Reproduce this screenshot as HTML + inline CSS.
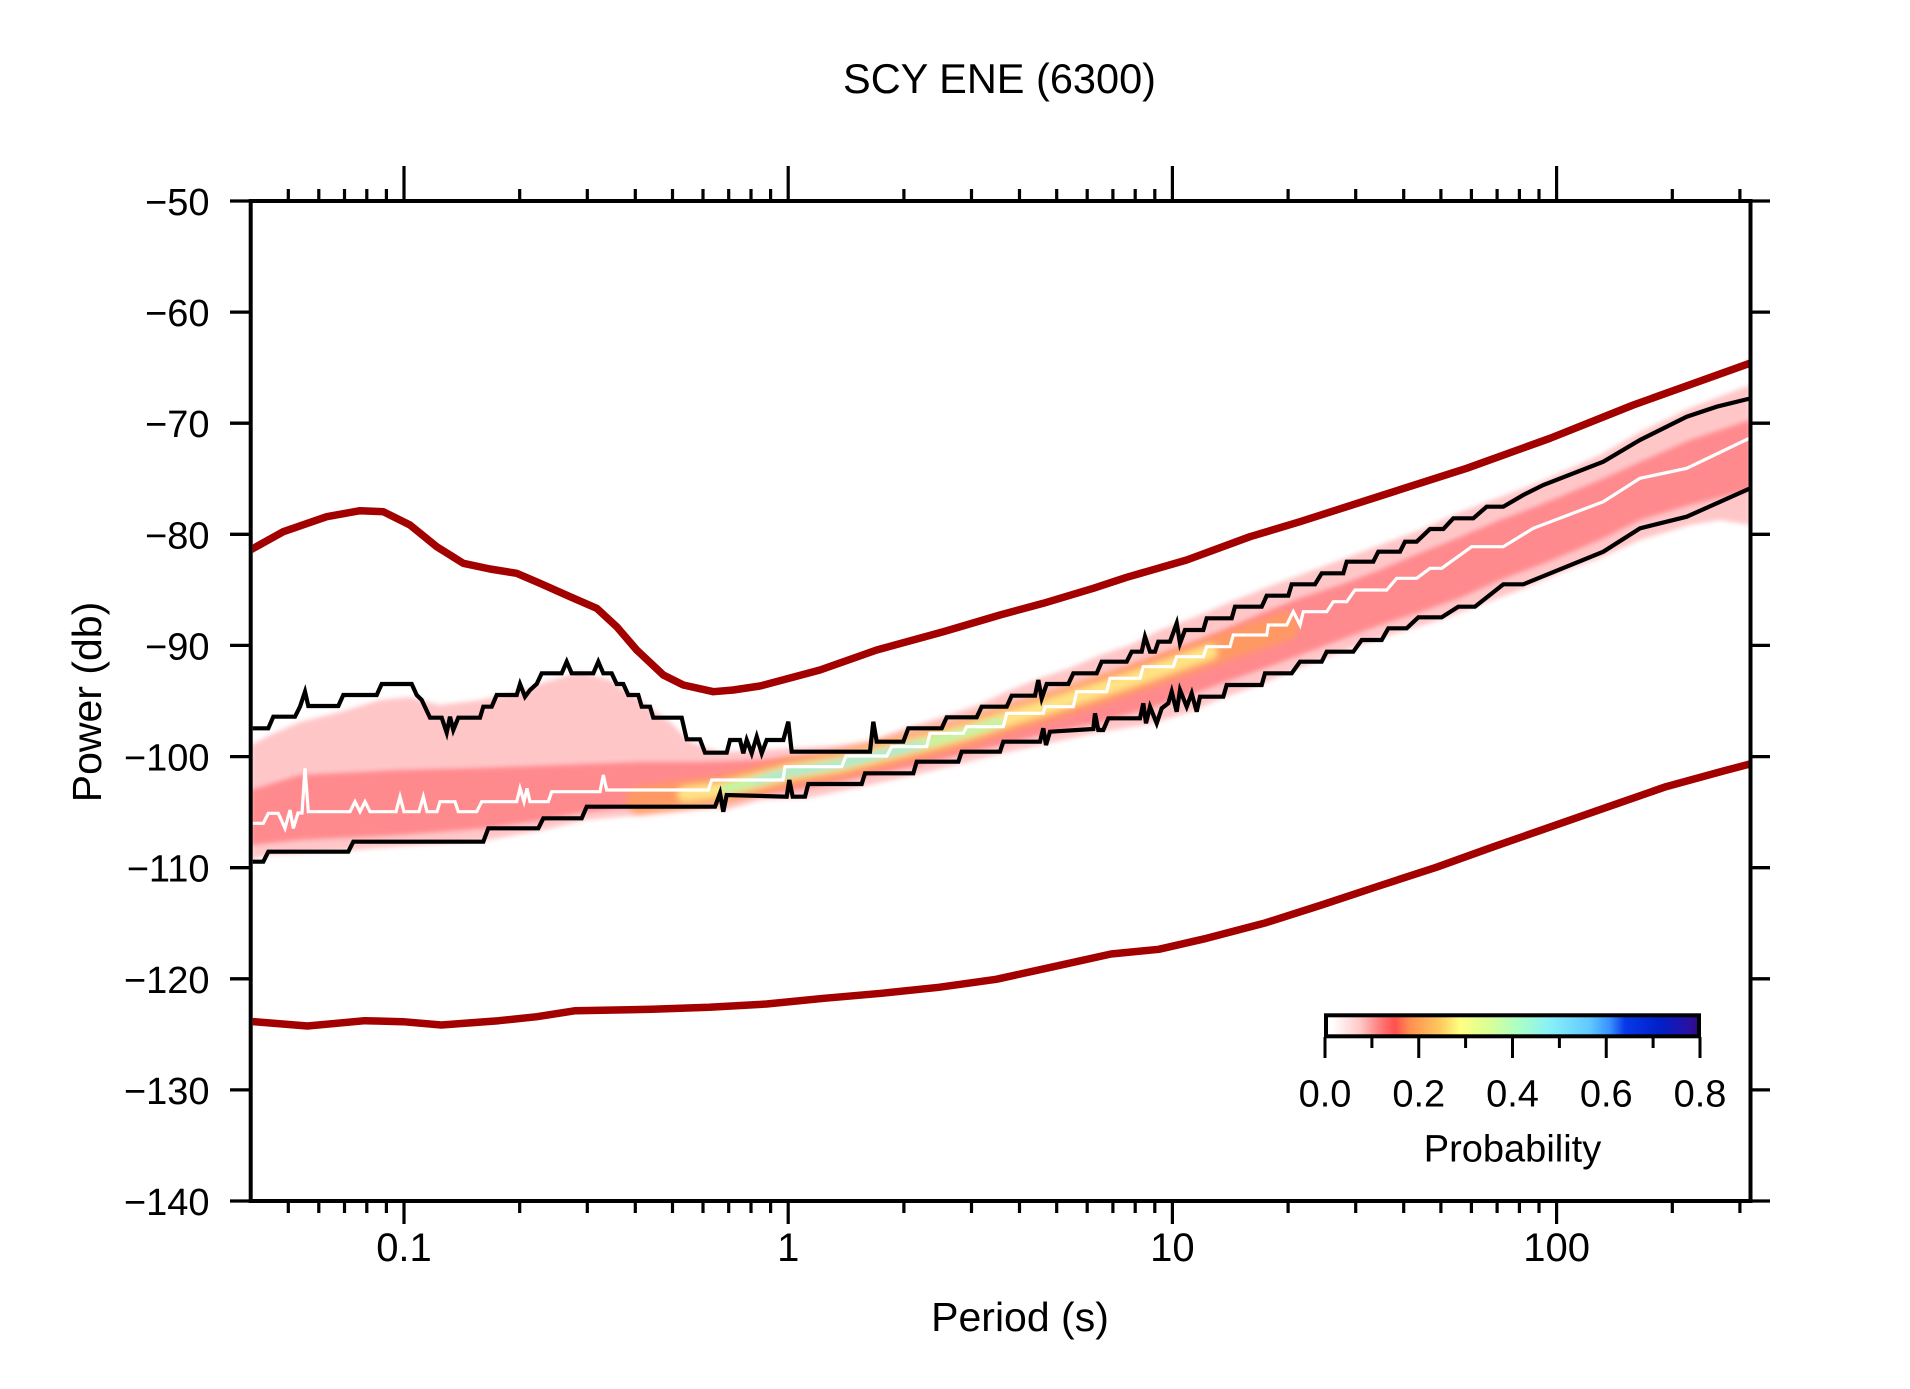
<!DOCTYPE html>
<html>
<head>
<meta charset="utf-8">
<style>
html,body{margin:0;padding:0;background:#fff;}
svg{display:block;}
text{font-family:"Liberation Sans",Arial,sans-serif;fill:#000;}
</style>
</head>
<body>
<svg width="1910" height="1389" viewBox="0 0 1910 1389" xmlns="http://www.w3.org/2000/svg">
<defs>
  <clipPath id="plot"><rect x="252.7" y="203" width="1495.8" height="996"/></clipPath>
  <filter id="soft" x="-5%" y="-5%" width="110%" height="110%"><feGaussianBlur stdDeviation="2.5"/></filter>
  <filter id="soft2" x="-5%" y="-20%" width="110%" height="140%"><feGaussianBlur stdDeviation="3.5"/></filter>
  <linearGradient id="cb" gradientUnits="userSpaceOnUse" x1="1325" y1="0" x2="1700" y2="0">
    <stop offset="0" stop-color="#ffffff"/>
    <stop offset="0.02" stop-color="#ffffff"/>
    <stop offset="0.093" stop-color="#ffc8c8"/>
    <stop offset="0.155" stop-color="#ff7070"/>
    <stop offset="0.187" stop-color="#ff5050"/>
    <stop offset="0.227" stop-color="#ff9050"/>
    <stop offset="0.307" stop-color="#ffc860"/>
    <stop offset="0.36" stop-color="#ffff80"/>
    <stop offset="0.44" stop-color="#d8ff98"/>
    <stop offset="0.52" stop-color="#a8ffc8"/>
    <stop offset="0.6" stop-color="#88f0f8"/>
    <stop offset="0.707" stop-color="#60c8ff"/>
    <stop offset="0.76" stop-color="#3890ff"/>
    <stop offset="0.8" stop-color="#0838e8"/>
    <stop offset="0.893" stop-color="#0020c8"/>
    <stop offset="0.973" stop-color="#2a10a0"/>
    <stop offset="1" stop-color="#300880"/>
  </linearGradient>
</defs>

<rect x="0" y="0" width="1910" height="1389" fill="#fff"/>

<!-- Title -->
<text x="999.5" y="93" font-size="41.5" text-anchor="middle">SCY ENE (6300)</text>

<g clip-path="url(#plot)">
  <!-- PDF band: pink envelope -->
  <polygon filter="url(#soft)" fill="#ffc6c8" points="251,745 270,735 300,722 340,712 380,700 410,697 440,705 480,700 520,692 545,682 580,672 610,680 640,700 670,722 690,742 720,752 760,750 790,748 830,746 870,742 905,728 945,716 980,704 1010,690 1040,678 1070,668 1100,655 1130,645 1160,630 1200,615 1235,600 1265,588 1300,575 1340,560 1380,545 1420,530 1460,512 1500,497 1540,482 1600,455 1640,432 1690,408 1750,385 1750,525 1720,520 1690,525 1640,540 1600,558 1560,573 1520,590 1480,605 1440,620 1400,632 1360,645 1320,660 1290,672 1260,685 1225,697 1190,712 1150,724 1100,732 1050,743 1000,754 960,764 915,775 865,786 808,798 760,800 726,810 715,808 586,820 543,830 488,840 353,850 268,855 251,860"/>
  <!-- red core -->
  <polygon filter="url(#soft)" fill="#ff8084" opacity="0.85" points="251,790 300,775 400,770 480,768 560,765 640,762 700,762 760,760 790,757 870,756 905,745 945,733 980,722 1010,712 1040,700 1070,690 1100,678 1130,667 1160,655 1200,640 1235,625 1265,612 1300,598 1340,585 1380,570 1420,553 1460,537 1500,520 1540,505 1600,480 1640,462 1690,440 1750,420 1750,490 1690,505 1640,520 1600,540 1540,565 1500,580 1460,598 1420,612 1380,625 1340,640 1300,655 1265,668 1225,682 1190,695 1150,708 1100,722 1050,733 1000,745 960,755 915,766 865,776 808,788 760,795 720,800 650,805 586,812 543,820 488,828 400,835 300,840 251,845"/>
  <!-- colored core -->
  <g filter="url(#soft2)" fill="none" stroke-linecap="round" stroke-linejoin="round">
    <polyline stroke="#ff9c5c" stroke-width="28" opacity="0.85" points="640,800 680,795 720,790 760,780 790,772 840,764 890,752 930,742 970,731 1010,718 1050,706 1090,693 1130,680 1170,666 1210,652 1250,638 1285,626"/>
    <polyline stroke="#ffe484" stroke-width="15" points="685,794 720,790 760,780 790,772 840,764 890,752 930,742 970,731 1010,718 1050,706 1090,693 1130,680 1170,666 1210,652"/>
    <polyline stroke="#b8f8a8" stroke-width="9" points="725,789 760,780 790,772 840,764 890,752 930,742 970,731 1000,722"/>
    <polyline stroke="#78e4f4" stroke-width="4" points="755,781 790,772 840,764 890,752 920,745"/>
  </g>

  <!-- upper black percentile -->
  <polyline fill="none" stroke="#000" stroke-width="4.2" stroke-linejoin="miter" points="250.7,728.3 268.3,728.3 273.3,716.7 295,716.7 300,706.7 305,691.7 308.3,706 338.3,706 343.3,695 376.7,695 381.7,684 411.7,684 416.7,695 421.7,700 430,717.7 441.7,717.7 446.7,732.7 450,716.7 453.3,730 458.3,717.7 480,717.7 483.3,706.7 491.7,706.7 496.7,695 516.7,695 520,684 525,696.7 530,690 536.7,684 541.7,673.3 561.7,673.3 566.7,661.7 571.7,673.3 593.3,673.3 598.3,661.7 603.3,673.3 611.7,673.3 616.7,684 623.3,684 628.3,695 638.3,695 641.7,706.7 650,706.7 653.3,717.7 681.7,717.7 686.7,739.3 700,739.3 705,752.7 726.7,752.7 730,740 740,740 743.3,753.3 746.7,740 751.7,753.3 756.7,736.7 761.7,753.3 766.7,740 783.3,740 788.3,721.7 791.7,751.7 870,751.7 873.3,721.7 876.7,741.7 903.3,741.7 908.3,728.3 941.7,728.3 946.7,717.3 976.7,717.3 981.7,706.7 1006.7,706.7 1011.7,695.7 1035,695.7 1038.3,680 1041.7,698.3 1046.7,684 1068.3,684 1073.3,673.3 1096.7,673.3 1101.7,661.7 1126.7,661.7 1131.7,651.7 1141.7,651.7 1145,636.7 1150,651.7 1155,651.7 1158.3,641.7 1170,641.7 1176.7,623.3 1180,643.3 1185,630 1203.3,630 1206.7,618.3 1231.7,618.3 1235,606.7 1261.7,606.7 1266.7,595.7 1288.3,595.7 1291.7,584.3 1315,584.3 1321.7,573.3 1343.3,573.3 1346.7,561.7 1373.3,561.7 1378.3,551.7 1400,551.7 1405,541.7 1416.7,541.7 1430,529 1443.3,529 1453.3,518.3 1473.3,518.3 1486.7,506.7 1503.3,506.7 1523.3,495 1543.3,485 1603.3,461.7 1640,440 1686.7,416.7 1716.7,406.7 1752,398"/>

  <!-- lower black percentile -->
  <polyline fill="none" stroke="#000" stroke-width="4.2" stroke-linejoin="miter" points="250.7,861.7 263.3,861.7 268.3,851.7 348.3,851.7 353.3,841.7 483.3,841.7 488.3,828.3 538.3,828.3 543.3,818.3 581.7,818.3 586.7,806.7 715,806.7 720,793.3 723.3,811.7 726.7,795 786.7,796.7 789.3,780 792.7,796.7 805,796.7 808.3,784 861.7,784 865,773.3 913.3,773.3 916.7,761.7 958.3,761.7 961.7,751.7 1000,751.7 1003.3,741.7 1040,741.7 1043.3,728.3 1046,745 1050,731.7 1093.3,729 1095,713.3 1098.3,730 1103.3,730 1108.3,718.3 1140,718.3 1143.3,703.3 1146,723.3 1150,706.7 1156.7,723.3 1161.7,708.3 1168.3,703.3 1171.7,691.7 1176.7,711.7 1180,690 1186.7,706.7 1191.7,693.3 1196.7,711.7 1200,696.7 1223.3,696.7 1226.7,685 1261.7,685 1265,673.3 1291.7,673.3 1300,661.7 1321.7,661.7 1326.7,651.7 1353.3,651.7 1361.7,640 1381.7,640 1388.3,628.3 1406.7,628.3 1418.3,617.3 1441.7,617.3 1458.3,606.7 1475,606.7 1503.3,584.3 1523.3,584.3 1603.3,551.7 1640,528.3 1686.7,516.7 1716.7,503.3 1752,487.5"/>

  <!-- white median -->
  <polyline fill="none" stroke="#fff" stroke-width="3.2" stroke-linejoin="miter" points="250.7,823.3 263.3,823.3 268.3,813.3 278.3,813.3 285,828.3 290,810 293.3,828.3 298,813 302,813 305,768.3 308.3,811.7 350,811.7 355,801.7 360,811.7 365,801.7 370,811.7 396,811.7 400,796.7 404,811.7 419,811.7 423.3,796.7 427,811.7 437,811.7 440,801.7 455,801.7 458.3,811.7 476.7,811.7 481.7,801.7 516.7,801.7 520,788.3 524,801.7 527,788.3 530,801.7 548.3,801.7 551.7,791.7 600,791.7 603.3,775 606.7,790 708.3,790 711.7,780 783,780 785,766.7 841.7,766.7 846,756 886.7,756 891.7,746.7 926.7,746.7 930,733.3 963.3,733.3 966.7,726.7 1003.3,726.7 1006.7,713.3 1043.3,713.3 1045,706.7 1073.3,706.7 1076.7,691.7 1106.7,691.7 1110,678.3 1140,678.3 1143.3,666.7 1173.3,666.7 1176.7,656.7 1203.3,656.7 1206.7,646.7 1230,646.7 1233.3,635 1266.7,635 1268.3,625 1286.7,625 1293.3,611.7 1300,625 1303.3,611.7 1326.7,611.7 1333.3,601.7 1346.7,601.7 1355,590 1386.7,590 1396.7,578.3 1416.7,578.3 1430,568.3 1441.7,568.3 1471.7,546.7 1503.3,546.7 1533.3,528.3 1603.3,501.7 1640,478.3 1686.7,468.3 1752,437"/>

  <!-- upper noise model -->
  <polyline fill="none" stroke="#a30000" stroke-width="7.5" stroke-linejoin="round" stroke-linecap="round" points="248,551.5 253.3,548.3 283.3,531.7 326.7,516.7 360,510.7 383.3,511.7 410,525 436.7,546.7 463.3,563.3 490,569 516.7,573.3 540,583.3 570,596.7 596.7,608.3 616.7,626.7 636.7,650 663.3,675 683.3,685 713.3,691.7 733.3,690 760,686 820,670 876.7,650 943.3,631.7 1000,615 1043.3,603.3 1093.3,588.3 1126.7,577.3 1186.7,560 1250,536.7 1300,521.7 1383.3,495 1466.7,468.3 1550,438.3 1633.3,405 1752,362.5"/>

  <!-- lower noise model -->
  <polyline fill="none" stroke="#a30000" stroke-width="7.5" stroke-linejoin="round" stroke-linecap="round" points="248,1021.5 254.8,1021.7 307.4,1026 364.8,1020.7 403,1021.7 441.3,1025 498.7,1020.7 537,1016.7 575.3,1010.7 651.8,1009.3 709.2,1007.3 766.6,1004 824,998.3 881.4,993.3 938.8,987.3 996.2,979.3 1053.6,966.7 1111,954 1158.8,949.3 1206.7,938.3 1264,923.3 1321.5,905 1378.9,886 1436.3,867.3 1493.7,846.7 1551.1,826.7 1608.5,806.7 1665.9,786.7 1723.3,771 1752,763.5"/>
</g>

<!-- Frame -->
<rect x="250.7" y="201" width="1499.8" height="1000" fill="none" stroke="#000" stroke-width="4"/>

<!-- Y ticks -->
<g stroke="#000" stroke-width="3.3">
  <line x1="230" y1="201" x2="250.7" y2="201"/>
  <line x1="230" y1="312.1" x2="250.7" y2="312.1"/>
  <line x1="230" y1="423.2" x2="250.7" y2="423.2"/>
  <line x1="230" y1="534.3" x2="250.7" y2="534.3"/>
  <line x1="230" y1="645.4" x2="250.7" y2="645.4"/>
  <line x1="230" y1="756.6" x2="250.7" y2="756.6"/>
  <line x1="230" y1="867.7" x2="250.7" y2="867.7"/>
  <line x1="230" y1="978.8" x2="250.7" y2="978.8"/>
  <line x1="230" y1="1089.9" x2="250.7" y2="1089.9"/>
  <line x1="230" y1="1201" x2="250.7" y2="1201"/>
  <line x1="1750.5" y1="201" x2="1770" y2="201"/>
  <line x1="1750.5" y1="312.1" x2="1770" y2="312.1"/>
  <line x1="1750.5" y1="423.2" x2="1770" y2="423.2"/>
  <line x1="1750.5" y1="534.3" x2="1770" y2="534.3"/>
  <line x1="1750.5" y1="645.4" x2="1770" y2="645.4"/>
  <line x1="1750.5" y1="756.6" x2="1770" y2="756.6"/>
  <line x1="1750.5" y1="867.7" x2="1770" y2="867.7"/>
  <line x1="1750.5" y1="978.8" x2="1770" y2="978.8"/>
  <line x1="1750.5" y1="1089.9" x2="1770" y2="1089.9"/>
  <line x1="1750.5" y1="1201" x2="1770" y2="1201"/>
</g>

<!-- X ticks top & bottom -->
<g stroke="#000" stroke-width="3.2">
  <line x1="404" y1="166" x2="404" y2="201"/><line x1="404" y1="1201" x2="404" y2="1224"/>
  <line x1="788.2" y1="166" x2="788.2" y2="201"/><line x1="788.2" y1="1201" x2="788.2" y2="1224"/>
  <line x1="1172.4" y1="166" x2="1172.4" y2="201"/><line x1="1172.4" y1="1201" x2="1172.4" y2="1224"/>
  <line x1="1556.6" y1="166" x2="1556.6" y2="201"/><line x1="1556.6" y1="1201" x2="1556.6" y2="1224"/>

  <line x1="288.3" y1="189" x2="288.3" y2="201"/><line x1="288.3" y1="1201" x2="288.3" y2="1213"/>
  <line x1="318.8" y1="189" x2="318.8" y2="201"/><line x1="318.8" y1="1201" x2="318.8" y2="1213"/>
  <line x1="344.5" y1="189" x2="344.5" y2="201"/><line x1="344.5" y1="1201" x2="344.5" y2="1213"/>
  <line x1="366.8" y1="189" x2="366.8" y2="201"/><line x1="366.8" y1="1201" x2="366.8" y2="1213"/>
  <line x1="386.4" y1="189" x2="386.4" y2="201"/><line x1="386.4" y1="1201" x2="386.4" y2="1213"/>

  <line x1="519.7" y1="189" x2="519.7" y2="201"/><line x1="519.7" y1="1201" x2="519.7" y2="1213"/>
  <line x1="587.3" y1="189" x2="587.3" y2="201"/><line x1="587.3" y1="1201" x2="587.3" y2="1213"/>
  <line x1="635.3" y1="189" x2="635.3" y2="201"/><line x1="635.3" y1="1201" x2="635.3" y2="1213"/>
  <line x1="672.5" y1="189" x2="672.5" y2="201"/><line x1="672.5" y1="1201" x2="672.5" y2="1213"/>
  <line x1="703" y1="189" x2="703" y2="201"/><line x1="703" y1="1201" x2="703" y2="1213"/>
  <line x1="728.7" y1="189" x2="728.7" y2="201"/><line x1="728.7" y1="1201" x2="728.7" y2="1213"/>
  <line x1="751" y1="189" x2="751" y2="201"/><line x1="751" y1="1201" x2="751" y2="1213"/>
  <line x1="770.6" y1="189" x2="770.6" y2="201"/><line x1="770.6" y1="1201" x2="770.6" y2="1213"/>

  <line x1="903.9" y1="189" x2="903.9" y2="201"/><line x1="903.9" y1="1201" x2="903.9" y2="1213"/>
  <line x1="971.5" y1="189" x2="971.5" y2="201"/><line x1="971.5" y1="1201" x2="971.5" y2="1213"/>
  <line x1="1019.5" y1="189" x2="1019.5" y2="201"/><line x1="1019.5" y1="1201" x2="1019.5" y2="1213"/>
  <line x1="1056.7" y1="189" x2="1056.7" y2="201"/><line x1="1056.7" y1="1201" x2="1056.7" y2="1213"/>
  <line x1="1087.2" y1="189" x2="1087.2" y2="201"/><line x1="1087.2" y1="1201" x2="1087.2" y2="1213"/>
  <line x1="1112.9" y1="189" x2="1112.9" y2="201"/><line x1="1112.9" y1="1201" x2="1112.9" y2="1213"/>
  <line x1="1135.2" y1="189" x2="1135.2" y2="201"/><line x1="1135.2" y1="1201" x2="1135.2" y2="1213"/>
  <line x1="1154.8" y1="189" x2="1154.8" y2="201"/><line x1="1154.8" y1="1201" x2="1154.8" y2="1213"/>

  <line x1="1288.1" y1="189" x2="1288.1" y2="201"/><line x1="1288.1" y1="1201" x2="1288.1" y2="1213"/>
  <line x1="1355.7" y1="189" x2="1355.7" y2="201"/><line x1="1355.7" y1="1201" x2="1355.7" y2="1213"/>
  <line x1="1403.7" y1="189" x2="1403.7" y2="201"/><line x1="1403.7" y1="1201" x2="1403.7" y2="1213"/>
  <line x1="1440.9" y1="189" x2="1440.9" y2="201"/><line x1="1440.9" y1="1201" x2="1440.9" y2="1213"/>
  <line x1="1471.4" y1="189" x2="1471.4" y2="201"/><line x1="1471.4" y1="1201" x2="1471.4" y2="1213"/>
  <line x1="1497.1" y1="189" x2="1497.1" y2="201"/><line x1="1497.1" y1="1201" x2="1497.1" y2="1213"/>
  <line x1="1519.4" y1="189" x2="1519.4" y2="201"/><line x1="1519.4" y1="1201" x2="1519.4" y2="1213"/>
  <line x1="1539" y1="189" x2="1539" y2="201"/><line x1="1539" y1="1201" x2="1539" y2="1213"/>

  <line x1="1672.3" y1="189" x2="1672.3" y2="201"/><line x1="1672.3" y1="1201" x2="1672.3" y2="1213"/>
  <line x1="1739.9" y1="189" x2="1739.9" y2="201"/><line x1="1739.9" y1="1201" x2="1739.9" y2="1213"/>
</g>

<!-- Y tick labels -->
<g font-size="38" text-anchor="end">
  <text x="209.5" y="215">−50</text>
  <text x="209.5" y="326.1">−60</text>
  <text x="209.5" y="437.2">−70</text>
  <text x="209.5" y="548.3">−80</text>
  <text x="209.5" y="659.4">−90</text>
  <text x="209.5" y="770.6">−100</text>
  <text x="209.5" y="881.7">−110</text>
  <text x="209.5" y="992.8">−120</text>
  <text x="209.5" y="1103.9">−130</text>
  <text x="209.5" y="1215">−140</text>
</g>

<!-- X tick labels -->
<g font-size="40" text-anchor="middle">
  <text x="404" y="1261">0.1</text>
  <text x="788.2" y="1261">1</text>
  <text x="1172.4" y="1261">10</text>
  <text x="1556.6" y="1261">100</text>
</g>

<!-- Axis labels -->
<text x="1020" y="1331" font-size="41" text-anchor="middle">Period (s)</text>
<text transform="translate(101,702) rotate(-90)" x="0" y="0" font-size="41" text-anchor="middle">Power (db)</text>

<!-- Colorbar -->
<rect x="1326" y="1015.3" width="373" height="21" fill="url(#cb)" stroke="#000" stroke-width="4"/>
<g stroke="#000" stroke-width="3">
  <line x1="1325" y1="1037" x2="1325" y2="1058"/>
  <line x1="1418.75" y1="1037" x2="1418.75" y2="1058"/>
  <line x1="1512.5" y1="1037" x2="1512.5" y2="1058"/>
  <line x1="1606.25" y1="1037" x2="1606.25" y2="1058"/>
  <line x1="1700" y1="1037" x2="1700" y2="1058"/>
  <line x1="1371.9" y1="1037" x2="1371.9" y2="1048"/>
  <line x1="1465.6" y1="1037" x2="1465.6" y2="1048"/>
  <line x1="1559.4" y1="1037" x2="1559.4" y2="1048"/>
  <line x1="1653.1" y1="1037" x2="1653.1" y2="1048"/>
</g>
<g font-size="38" text-anchor="middle">
  <text x="1325" y="1106.5">0.0</text>
  <text x="1418.75" y="1106.5">0.2</text>
  <text x="1512.5" y="1106.5">0.4</text>
  <text x="1606.25" y="1106.5">0.6</text>
  <text x="1700" y="1106.5">0.8</text>
</g>
<text x="1512.5" y="1161.5" font-size="38" text-anchor="middle">Probability</text>
</svg>
</body>
</html>
